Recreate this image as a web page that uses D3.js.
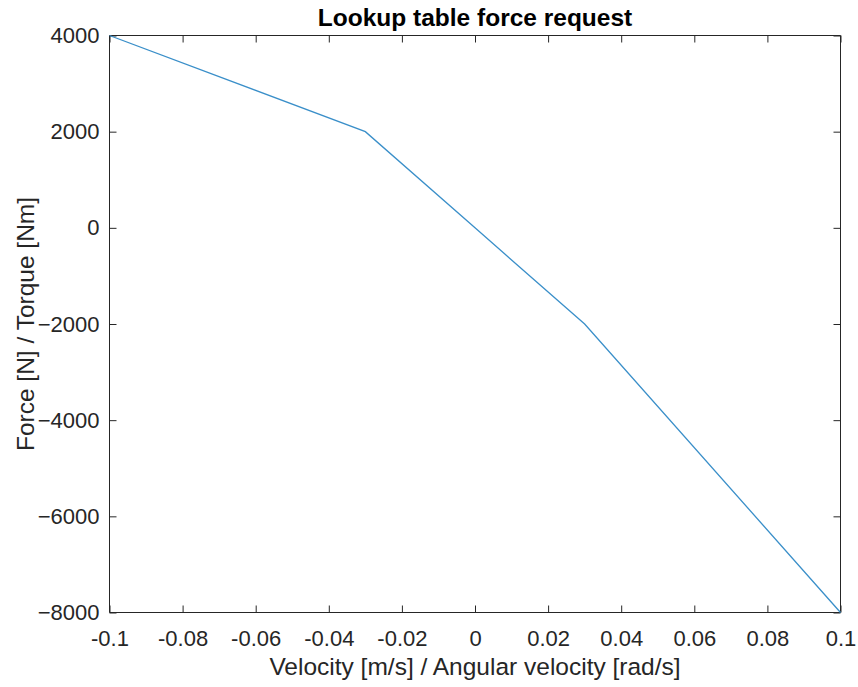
<!DOCTYPE html>
<html>
<head>
<meta charset="utf-8">
<script src="https://cdn.jsdelivr.net/npm/d3@7"></script>
<style>
  body { margin: 0; background: #fff; }
  svg { display: block; }
  text { font-family: "Liberation Sans", Arial, sans-serif; fill: #262626; }
</style>
</head>
<body>
<svg id="chart" width="858" height="687"></svg>
<script>
// Lookup table breakpoints: velocity -> requested force/torque
const velocity = [-0.1, -0.03, 0, 0.03, 0.1];
const force = [4000, 2000, 0, -2000, -8000];
const xTicks = [-0.1, -0.08, -0.06, -0.04, -0.02, 0, 0.02, 0.04, 0.06, 0.08, 0.1];
const yTicks = [-8000, -6000, -4000, -2000, 0, 2000, 4000];

(function () {
  const svg = d3.select("#chart");
  const pLeft = 109.5, pRight = 840.5, pTop = 35.5, pBottom = 612.5;
  const axisColor = "#262626";

  const x = d3.scaleLinear().domain([-0.1, 0.1]).range([pLeft, pRight]);
  const y = d3.scaleLinear().domain([-8000, 4000]).range([pBottom, pTop]);

  const fmtX = d => String(+d.toFixed(2));

  // bottom axis with inward ticks
  const gx = svg.append("g").attr("transform", `translate(0,${pBottom})`)
    .call(d3.axisBottom(x).tickValues(xTicks).tickSize(-7).tickPadding(18).tickFormat(fmtX));
  // top mirrored ticks
  const gxt = svg.append("g").attr("transform", `translate(0,${pTop})`)
    .call(d3.axisTop(x).tickValues(xTicks).tickSize(-7).tickFormat(""));
  // left axis
  const gy = svg.append("g").attr("transform", `translate(${pLeft},0)`)
    .call(d3.axisLeft(y).tickValues(yTicks).tickSize(-7).tickPadding(10).tickFormat(d3.format("")));
  // right mirrored ticks
  const gyr = svg.append("g").attr("transform", `translate(${pRight},0)`)
    .call(d3.axisRight(y).tickValues(yTicks).tickSize(-7).tickFormat(""));

  [gx, gxt, gy, gyr].forEach(g => {
    g.selectAll("path.domain").attr("stroke", axisColor).attr("stroke-width", 1);
    g.selectAll(".tick line").attr("stroke", axisColor).attr("stroke-width", 1);
    g.selectAll(".tick text").attr("font-size", 22).attr("fill", axisColor)
      .style("font-family", "'Liberation Sans', Arial, sans-serif");
  });
  // plain box edges without end caps
  gx.select("path.domain").attr("d", `M${pLeft},0H${pRight}`);
  gxt.select("path.domain").attr("d", `M${pLeft},0H${pRight}`);
  gy.select("path.domain").attr("d", `M0,${pTop}V${pBottom}`);
  gyr.select("path.domain").attr("d", `M0,${pTop}V${pBottom}`);

  // data line
  svg.append("path")
    .datum(velocity.map((v, i) => [v, force[i]]))
    .attr("fill", "none")
    .attr("stroke", "#3a8fc9")
    .attr("stroke-width", 1.3)
    .attr("d", d3.line().x(d => x(d[0])).y(d => y(d[1])));

  // title and axis labels
  svg.append("text").attr("x", (pLeft + pRight) / 2).attr("y", 26)
    .attr("text-anchor", "middle").attr("font-size", 24.5).attr("font-weight", "bold")
    .style("fill", "#000")
    .text("Lookup table force request");

  svg.append("text").attr("x", (pLeft + pRight) / 2).attr("y", 675)
    .attr("text-anchor", "middle").attr("font-size", 24.5)
    .text("Velocity [m/s] / Angular velocity [rad/s]");

  svg.append("text")
    .attr("transform", `translate(34,${(pTop + pBottom) / 2}) rotate(-90)`)
    .attr("text-anchor", "middle").attr("font-size", 24.5)
    .text("Force [N] / Torque [Nm]");
})();
</script>
</body>
</html>
